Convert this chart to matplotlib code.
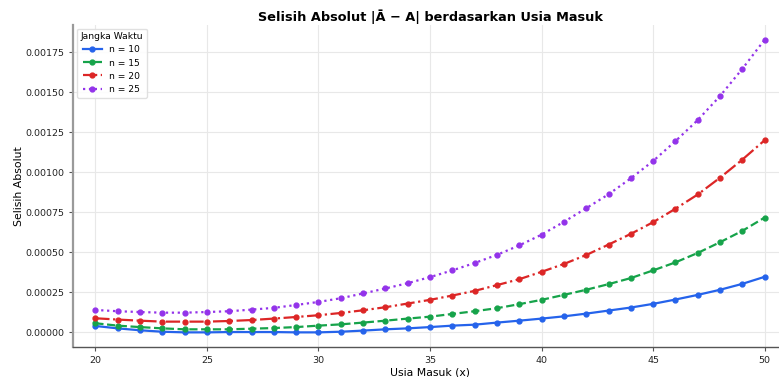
import numpy as np
import matplotlib
matplotlib.use("Agg")
import matplotlib.pyplot as plt

# Usia masuk (x)
usia = list(range(20, 51))

# Selisih absolut |A_bar - A| per jangka waktu
n10 = [0.000040, 0.000025, 0.000013, 0.000004, 0.000000, 0.000000, 0.000002, 0.000002,
       0.000002, 0.000000, 0.000000, 0.000004, 0.000011, 0.000019, 0.000025, 0.000033,
       0.000042, 0.000048, 0.000061, 0.000073, 0.000086, 0.000100, 0.000117, 0.000136,
       0.000155, 0.000178, 0.000205, 0.000234, 0.000266, 0.000303, 0.000347]
n15 = [0.000057, 0.000042, 0.000033, 0.000025, 0.000019, 0.000019, 0.000019, 0.000023,
       0.000027, 0.000033, 0.000042, 0.000050, 0.000061, 0.000073, 0.000086, 0.000098,
       0.000115, 0.000132, 0.000151, 0.000176, 0.000203, 0.000234, 0.000266, 0.000301,
       0.000339, 0.000387, 0.000437, 0.000496, 0.000563, 0.000634, 0.000717]
n20 = [0.000088, 0.000080, 0.000073, 0.000067, 0.000067, 0.000067, 0.000071, 0.000077,
       0.000086, 0.000096, 0.000107, 0.000121, 0.000138, 0.000157, 0.000180, 0.000203,
       0.000230, 0.000259, 0.000295, 0.000332, 0.000378, 0.000427, 0.000483, 0.000548,
       0.000615, 0.000688, 0.000772, 0.000861, 0.000966, 0.001079, 0.001200]
n25 = [0.000140, 0.000132, 0.000127, 0.000123, 0.000123, 0.000127, 0.000132, 0.000142,
       0.000153, 0.000171, 0.000190, 0.000213, 0.000243, 0.000274, 0.000307, 0.000345,
       0.000387, 0.000433, 0.000484, 0.000543, 0.000610, 0.000690, 0.000775, 0.000862,
       0.000962, 0.001070, 0.001194, 0.001326, 0.001476, 0.001646, 0.001828]

series = [("n = 10", n10, "#2563eb", "-"),
          ("n = 15", n15, "#16a34a", "--"),
          ("n = 20", n20, "#dc2626", "-."),
          ("n = 25", n25, "#9333ea", ":")]

fig = plt.figure(figsize=(7.79, 3.77), dpi=100)
ax = fig.add_axes([73 / 779, 30 / 377, 714 / 779, 322 / 377])

for label, vals, color, ls in series:
    ax.plot(usia, vals, linestyle=ls, marker="o", markersize=3.5,
            linewidth=1.6, color=color, label=label)

ax.set_xlim(19, 51)
ax.set_xticks([20, 25, 30, 35, 40, 45, 50])
ax.set_yticks(np.arange(0, 0.00176, 0.00025))
ax.yaxis.set_major_formatter(matplotlib.ticker.FormatStrFormatter("%.5f"))
ax.tick_params(labelsize=6.8, length=3, color="#555555", labelcolor="#222222")
ax.grid(True, color="#e8e8e8", linewidth=0.8)
ax.set_axisbelow(True)
for side in ["top", "right"]:
    ax.spines[side].set_visible(False)
ax.spines["left"].set_color("#9a9a9a")
ax.spines["left"].set_linewidth(1.6)
ax.spines["bottom"].set_color("#555555")
ax.spines["bottom"].set_linewidth(1.0)

ax.set_xlabel("Usia Masuk (x)", fontsize=7.8, labelpad=2)
ax.set_ylabel("Selisih Absolut", fontsize=7.8, labelpad=1)
ax.set_title("Selisih Absolut |Ā − A| berdasarkan Usia Masuk", fontsize=9.3,
             fontweight="bold", pad=3)
ax.legend(title="Jangka Waktu", loc="upper left", fontsize=6.6, title_fontsize=6.6,
          frameon=True, framealpha=0.9, edgecolor="#dddddd",
          borderaxespad=0.4, handlelength=2.0, labelspacing=0.45)

fig.savefig("out.png", dpi=100)
